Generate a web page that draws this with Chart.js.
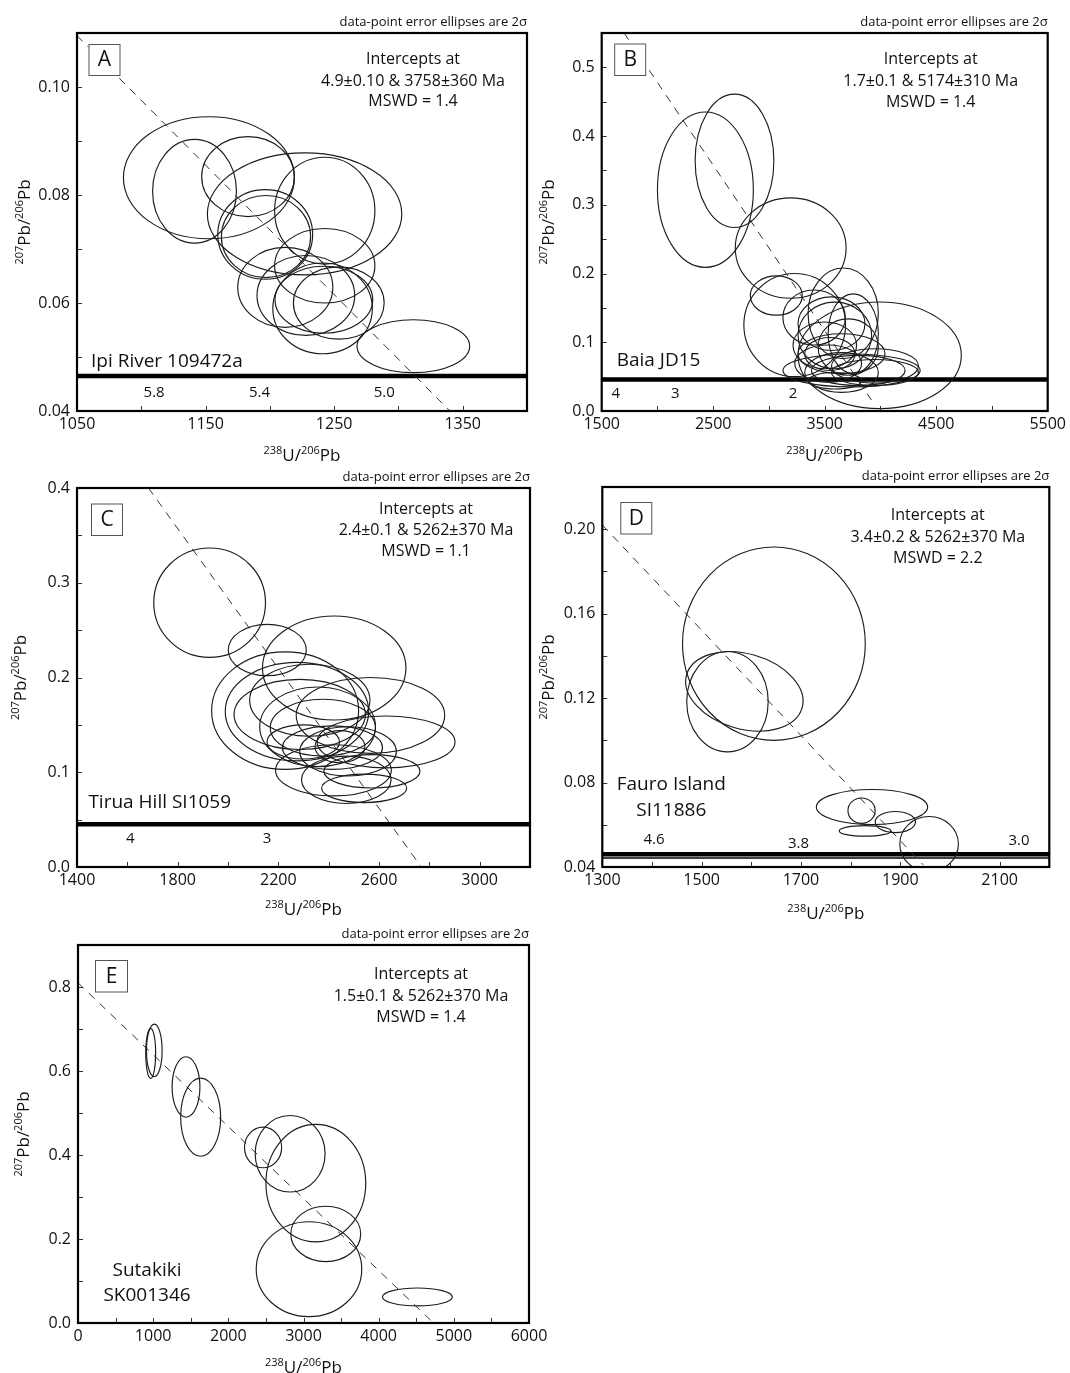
<!DOCTYPE html>
<html>
<head>
<meta charset="utf-8">
<script src="https://cdn.jsdelivr.net/npm/chart.js@4.4.1/dist/chart.umd.min.js"></script>
<style>
  html, body { margin: 0; padding: 0; background: #fff; }
  #page { position: relative; width: 1070px; height: 1373px; overflow: hidden; }
  #page canvas { position: absolute; }
</style>
</head>
<body>
<div id="page">
  <canvas id="chartA" width="540" height="470" style="left:0;top:0"></canvas>
  <canvas id="chartB" width="540" height="470" style="left:530px;top:0"></canvas>
  <canvas id="chartC" width="540" height="470" style="left:0;top:460px"></canvas>
  <canvas id="chartD" width="540" height="470" style="left:530px;top:460px"></canvas>
  <canvas id="chartE" width="560" height="458" style="left:0;top:915px"></canvas>
</div>
<script>
// ---- values (ellipse centres and 2-sigma half widths) ----

// A - Ipi River 109472a
const aCx = [1152.6, 1141.4, 1183, 1227, 1196.4, 1197, 1242.7, 1242.7, 1212, 1228, 1241, 1253.6, 1242, 1311.6];
const aCy = [0.0832, 0.0807, 0.0834, 0.0765, 0.0727, 0.0723, 0.0771, 0.0669, 0.0629, 0.0614, 0.0590, 0.0600, 0.0606, 0.0520];
const aRx = [66.5, 32.6, 36, 75.6, 36.9, 34.7, 39, 39, 37, 38, 38.7, 35.3, 38, 43.8];
const aRy = [0.0113, 0.0096, 0.0074, 0.0113, 0.0083, 0.0076, 0.0099, 0.0069, 0.0074, 0.0074, 0.0084, 0.0067, 0.0062, 0.0049];
const aDiscX = [1050, 1340];
const aDiscY = [0.1095, 0.04];
const aConcY = [0.0465];
const aAges = ['5.8', '5.4', '5.0'];
const aAgeX = [1110, 1192, 1289];
const aXTicks = ['1050', '1150', '1250', '1350'];
const aYTicks = ['0.04', '0.06', '0.08', '0.10'];

// B - Baia JD15
const bCx = [2430, 2691, 3195, 3066, 3231, 3993, 3666, 3405, 3561, 3501, 3591, 3651, 3756, 3741, 3651, 3531, 3801, 3951, 3546, 3711, 3951, 3591];
const bCy = [0.322, 0.364, 0.237, 0.168, 0.125, 0.081, 0.142, 0.136, 0.127, 0.0955, 0.110, 0.0834, 0.1125, 0.059, 0.056, 0.069, 0.059, 0.056, 0.083, 0.093, 0.0656, 0.044];
const bRx = [430, 353, 497, 233, 456, 732, 315, 280, 300, 285, 330, 390, 225, 615, 330, 300, 420, 390, 225, 270, 390, 240];
const bRy = [0.113, 0.097, 0.073, 0.0286, 0.075, 0.0776, 0.066, 0.040, 0.039, 0.034, 0.0485, 0.029, 0.058, 0.024, 0.029, 0.027, 0.022, 0.019, 0.024, 0.041, 0.025, 0.012];
const bDiscX = [1701, 3919];
const bDiscY = [0.55, 0.016];
const bConcY = [0.046];
const bAges = ['4', '3', '2'];
const bAgeX = [1626, 2160, 3216];
const bXTicks = ['1500', '2500', '3500', '4500', '5500'];
const bYTicks = ['0.0', '0.1', '0.2', '0.3', '0.4', '0.5'];

// C - Tirua Hill SI1059
const cCx = [1927, 2156, 2422, 2227, 2274, 2325, 2285, 2566, 2356, 2377, 2628, 2299, 2415, 2477, 2419, 2470, 2572, 2541, 2445];
const cCy = [0.279, 0.229, 0.210, 0.165, 0.164, 0.176, 0.161, 0.160, 0.148, 0.147, 0.132, 0.132, 0.126, 0.122, 0.102, 0.092, 0.101, 0.083, 0.127];
const cRx = [222, 155, 285, 292, 285, 239, 261, 295, 230, 209, 274, 144, 199, 192, 230, 178, 191, 169, 99];
const cRy = [0.0577, 0.0271, 0.0549, 0.062, 0.052, 0.038, 0.037, 0.040, 0.042, 0.030, 0.0274, 0.018, 0.023, 0.026, 0.027, 0.025, 0.0176, 0.015, 0.017];
const cDiscX = [1684, 2768];
const cDiscY = [0.4, 0.0];
const cConcY = [0.045];
const cAges = ['4', '3'];
const cAgeX = [1612, 2155];
const cXTicks = ['1400', '1800', '2200', '2600', '3000'];
const cYTicks = ['0.0', '0.1', '0.2', '0.3', '0.4'];

// D - Fauro Island SI11886
const dCx = [1645.5, 1552, 1586, 1843, 1822, 1890, 1829, 1958];
const dCy = [0.1458, 0.1183, 0.1232, 0.0684, 0.0667, 0.0613, 0.0571, 0.0509];
const dRx = [184, 82, 121, 112, 27.4, 40.5, 52, 59];
const dRy = [0.0458, 0.0238, 0.0178, 0.0083, 0.0060, 0.0050, 0.0025, 0.0130];
const dRot = [0, 0, 0.28, 0, 0, 0, 0, 0];
const dDiscX = [1300, 1946];
const dDiscY = [0.202, 0.041];
const dConcY = [0.0460, 0.0443];
const dAges = ['4.6', '3.8', '3.0'];
const dAgeX = [1404, 1695, 2139];
const dXTicks = ['1300', '1500', '1700', '1900', '2100'];
const dYTicks = ['0.04', '0.08', '0.12', '0.16', '0.20'];

// E - Sutakiki SK001346
const eCx = [967, 1015, 1437, 1632, 2462, 2822, 3164, 3296, 3073, 4515];
const eCy = [0.642, 0.649, 0.562, 0.490, 0.418, 0.403, 0.333, 0.212, 0.128, 0.062];
const eRx = [66, 104, 185, 266, 247, 465, 664, 465, 702, 465];
const eRy = [0.0595, 0.0626, 0.072, 0.093, 0.0484, 0.091, 0.140, 0.066, 0.113, 0.0214];
const eDiscX = [0, 4730];
const eDiscY = [0.81, 0.0];
const eXTicks = ['0', '1000', '2000', '3000', '4000', '5000', '6000'];
const eYTicks = ['0.0', '0.2', '0.4', '0.6', '0.8'];

// ---- drawing ----
Chart.defaults.font.family = '"Open Sans", sans-serif';
const INK = '#111';
const panelCfg = {};

function supText(ctx, parts, x, y, big, small) {
  let w = 0;
  parts.forEach(([t, sup]) => {
    ctx.font = (sup ? small : big) + 'px "Open Sans"';
    w += ctx.measureText(t).width;
  });
  let cx = x - w / 2;
  ctx.textAlign = 'left';
  ctx.textBaseline = 'alphabetic';
  parts.forEach(([t, sup]) => {
    ctx.font = (sup ? small : big) + 'px "Open Sans"';
    ctx.fillText(t, cx, sup ? y - big * 0.42 : y);
    cx += ctx.measureText(t).width;
  });
}

const decorPlugin = {
  id: 'decor',
  afterDatasetsDraw(chart) {
    const { ctx, chartArea: a } = chart;
    const xs = chart.scales.x, ys = chart.scales.y;
    ctx.save();
    ctx.beginPath();
    ctx.rect(a.left, a.top, a.right - a.left, a.bottom - a.top);
    ctx.clip();
    ctx.strokeStyle = '#1c1c1c';
    ctx.lineWidth = 1.15;
    chart.data.datasets[0].data.forEach(e => {
      const px = xs.getPixelForValue(e.x), py = ys.getPixelForValue(e.y);
      const rx = Math.abs(xs.getPixelForValue(e.x + e.rx) - px);
      const ry = Math.abs(ys.getPixelForValue(e.y + e.ry) - py);
      ctx.beginPath();
      ctx.ellipse(px, py, rx, ry, e.rot, 0, Math.PI * 2);
      ctx.stroke();
    });
    ctx.restore();
  },
  afterDraw(chart) {
    const p = panelCfg[chart.canvas.id];
    const { ctx, chartArea: a } = chart;
    const xs = chart.scales.x, ys = chart.scales.y;
    ctx.save();

    // inward tick marks
    ctx.strokeStyle = '#333';
    ctx.lineWidth = 1;
    ctx.beginPath();
    xs.ticks.forEach(t => {
      const px = Math.round(xs.getPixelForValue(t.value)) + 0.5;
      if (px < a.left + 2 || px > a.right - 2) return;
      ctx.moveTo(px, a.bottom);
      ctx.lineTo(px, a.bottom - 5);
    });
    ys.ticks.forEach(t => {
      const py = Math.round(ys.getPixelForValue(t.value)) + 0.5;
      if (py < a.top + 2 || py > a.bottom - 2) return;
      ctx.moveTo(a.left, py);
      ctx.lineTo(a.left + 5, py);
    });
    ctx.stroke();

    // frame
    ctx.strokeStyle = '#000';
    ctx.lineWidth = 2.2;
    ctx.strokeRect(a.left, a.top, a.right - a.left, a.bottom - a.top);

    ctx.fillStyle = INK;

    // concordia age labels
    if (p.ages) {
      ctx.font = '15px "Open Sans"';
      ctx.textAlign = 'center';
      ctx.textBaseline = 'middle';
      const cy = ys.getPixelForValue(p.concY[0]);
      p.ages.forEach((s, i) => {
        ctx.fillText(s, xs.getPixelForValue(p.ageX[i]), cy + p.ageOff[i]);
      });
    }

    // panel letter box
    const b = p.letterBox;
    ctx.fillStyle = '#fff';
    ctx.fillRect(a.left + b[0], a.top + b[1], b[2], b[3]);
    ctx.strokeStyle = '#555';
    ctx.lineWidth = 1;
    ctx.strokeRect(a.left + b[0] + 0.5, a.top + b[1] + 0.5, b[2], b[3]);
    ctx.fillStyle = INK;
    ctx.font = '21px "Open Sans"';
    ctx.textAlign = 'center';
    ctx.textBaseline = 'middle';
    ctx.fillText(p.letter, a.left + b[0] + b[2] / 2 + 0.5, a.top + b[1] + b[3] / 2 + 1);

    // intercept annotation
    ctx.font = '16px "Open Sans"';
    p.info.forEach((s, i) => ctx.fillText(s, a.left + p.infoX, a.top + p.infoY[i]));

    // sample name
    ctx.font = '19px "Open Sans"';
    ctx.textAlign = p.nameAlign;
    p.name.forEach((s, i) => ctx.fillText(s, a.left + p.nameX, a.top + p.nameY[i]));

    // caption above frame
    ctx.font = '13px "Open Sans"';
    ctx.textAlign = 'right';
    ctx.fillText('data-point error ellipses are 2\u03c3', a.right, a.top - 11);

    // axis titles
    supText(ctx, [['238', true], ['U/', false], ['206', true], ['Pb', false]],
      (a.left + a.right) / 2, a.bottom + p.xTitleOff, 17, 11);
    ctx.translate(a.left + p.yTitleOff, (a.top + a.bottom) / 2);
    ctx.rotate(-Math.PI / 2);
    supText(ctx, [['207', true], ['Pb/', false], ['206', true], ['Pb', false]], 0, 6, 17, 11);
    ctx.restore();
  }
};

function tickCb(labels) {
  return v => {
    const s = labels.find(l => Math.abs(parseFloat(l) - v) < 1e-9);
    return s === undefined ? '' : s;
  };
}

function buildPanel(id, p) {
  panelCfg[id] = p;
  const canvas = document.getElementById(id);
  const W = canvas.width, H = canvas.height, L = p.area;
  const ellipses = p.cx.map((x, i) => ({ x, y: p.cy[i], rx: p.rx[i], ry: p.ry[i], rot: p.rot ? p.rot[i] : 0 }));
  const datasets = [
    { label: 'spots', data: ellipses, pointRadius: 0 },
    {
      label: 'discordia', data: p.discX.map((x, i) => ({ x, y: p.discY[i] })),
      showLine: true, borderColor: '#333', borderWidth: 1, borderDash: [8, 7], pointRadius: 0
    }
  ];
  (p.concY || []).forEach((cy, i) => datasets.push({
    label: 'concordia', data: [{ x: p.xMin, y: cy }, { x: p.xMax, y: cy }],
    showLine: true, borderColor: '#000', borderWidth: p.concW[i], pointRadius: 0
  }));

  new Chart(canvas, {
    type: 'scatter',
    data: { datasets },
    options: {
      responsive: false,
      animation: false,
      events: [],
      layout: { padding: { left: 0, top: L.T, right: W - L.R, bottom: 0 } },
      plugins: { legend: { display: false }, tooltip: { enabled: false } },
      scales: {
        x: {
          type: 'linear', min: p.xMin, max: p.xMax,
          grid: { display: false, drawTicks: false },
          border: { display: false },
          ticks: {
            stepSize: p.xStep, autoSkip: false, maxRotation: 0, padding: 4,
            color: INK, font: { size: 16 }, callback: tickCb(p.xTicks)
          },
          afterFit: s => { s.height = H - L.B; }
        },
        y: {
          type: 'linear', min: p.yMin, max: p.yMax,
          grid: { display: false, drawTicks: false },
          border: { display: false },
          ticks: {
            stepSize: p.yStep, autoSkip: false, padding: 7,
            color: INK, font: { size: 16 }, callback: tickCb(p.yTicks)
          },
          afterFit: s => { s.width = L.L; }
        }
      }
    },
    plugins: [decorPlugin]
  });
}

buildPanel('chartA', {
  area: { L: 77, T: 33, R: 527, B: 411 },
  xMin: 1050, xMax: 1400, xStep: 50, yMin: 0.04, yMax: 0.11, yStep: 0.01,
  xTicks: aXTicks, yTicks: aYTicks,
  cx: aCx, cy: aCy, rx: aRx, ry: aRy,
  discX: aDiscX, discY: aDiscY, concY: aConcY, concW: [4.5],
  ages: aAges, ageX: aAgeX, ageOff: [17, 17, 17],
  letter: 'A', letterBox: [11.5, 11, 31, 31],
  info: ['Intercepts at', '4.9\u00b10.10 & 3758\u00b1360 Ma', 'MSWD = 1.4'], infoX: 336, infoY: [26, 48, 68.7],
  name: ['Ipi River 109472a'], nameAlign: 'left', nameX: 14, nameY: [328.7],
  xTitleOff: 50, yTitleOff: -53
});

buildPanel('chartB', {
  area: { L: 71.7, T: 33, R: 521.7, B: 411 },
  xMin: 1500, xMax: 5500, xStep: 500, yMin: 0, yMax: 0.55, yStep: 0.05,
  xTicks: bXTicks, yTicks: bYTicks,
  cx: bCx, cy: bCy, rx: bRx, ry: bRy,
  discX: bDiscX, discY: bDiscY, concY: bConcY, concW: [4.5],
  ages: bAges, ageX: bAgeX, ageOff: [14, 14, 14],
  letter: 'B', letterBox: [12.5, 10.5, 31, 31.5],
  info: ['Intercepts at', '1.7\u00b10.1 & 5174\u00b1310 Ma', 'MSWD = 1.4'], infoX: 329, infoY: [26, 48, 69],
  name: ['Baia JD15'], nameAlign: 'left', nameX: 15, nameY: [327.7],
  xTitleOff: 50, yTitleOff: -54
});

buildPanel('chartC', {
  area: { L: 77, T: 28, R: 530, B: 407 },
  xMin: 1400, xMax: 3200, xStep: 200, yMin: 0, yMax: 0.4, yStep: 0.05,
  xTicks: cXTicks, yTicks: cYTicks,
  cx: cCx, cy: cCy, rx: cRx, ry: cRy,
  discX: cDiscX, discY: cDiscY, concY: cConcY, concW: [4.5],
  ages: cAges, ageX: cAgeX, ageOff: [14, 14],
  letter: 'C', letterBox: [14, 15.5, 31, 31.5],
  info: ['Intercepts at', '2.4\u00b10.1 & 5262\u00b1370 Ma', 'MSWD = 1.1'], infoX: 349, infoY: [21, 42.7, 63.7],
  name: ['Tirua Hill SI1059'], nameAlign: 'left', nameX: 11.4, nameY: [314.3],
  xTitleOff: 48, yTitleOff: -57
});

buildPanel('chartD', {
  area: { L: 72.3, T: 27, R: 519.3, B: 407 },
  xMin: 1300, xMax: 2200, xStep: 100, yMin: 0.04, yMax: 0.22, yStep: 0.02,
  xTicks: dXTicks, yTicks: dYTicks,
  cx: dCx, cy: dCy, rx: dRx, ry: dRy, rot: dRot,
  discX: dDiscX, discY: dDiscY, concY: dConcY, concW: [4.5, 1.5],
  ages: dAges, ageX: dAgeX, ageOff: [-15, -11, -14],
  letter: 'D', letterBox: [18, 15, 31, 31.5],
  info: ['Intercepts at', '3.4\u00b10.2 & 5262\u00b1370 Ma', 'MSWD = 2.2'], infoX: 335.5, infoY: [28.7, 50, 71.7],
  name: ['Fauro Island', 'SI11886'], nameAlign: 'center', nameX: 69, nameY: [297.7, 323.7],
  xTitleOff: 51.7, yTitleOff: -54
});

buildPanel('chartE', {
  area: { L: 78, T: 30, R: 529, B: 408 },
  xMin: 0, xMax: 6000, xStep: 500, yMin: 0, yMax: 0.9, yStep: 0.1,
  xTicks: eXTicks, yTicks: eYTicks,
  cx: eCx, cy: eCy, rx: eRx, ry: eRy,
  discX: eDiscX, discY: eDiscY,
  letter: 'E', letterBox: [17, 15, 32, 31.5],
  info: ['Intercepts at', '1.5\u00b10.1 & 5262\u00b1370 Ma', 'MSWD = 1.4'], infoX: 343, infoY: [29, 51, 72.3],
  name: ['Sutakiki', 'SK001346'], nameAlign: 'center', nameX: 69, nameY: [325.7, 351],
  xTitleOff: 49.7, yTitleOff: -55
});
</script>
</body>
</html>
